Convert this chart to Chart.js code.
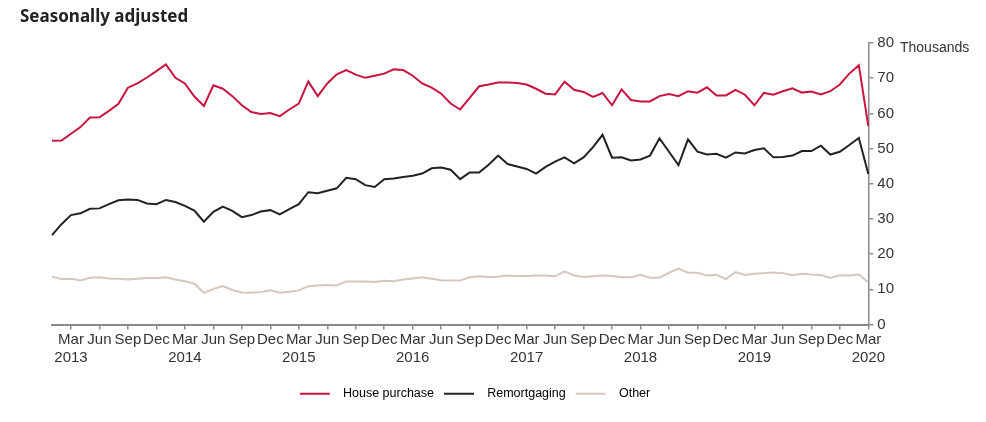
<!DOCTYPE html>
<html>
<head>
<meta charset="utf-8">
<script src="https://cdn.jsdelivr.net/npm/chart.js@4.4.1/dist/chart.umd.min.js"></script>
<style>
  body { margin: 0; background: #fff; }
  #wrap { position: relative; width: 986px; height: 422px; }
  #title { position: absolute; left: 20px; top: 4px; font: bold 17px "Noto Sans", sans-serif; color: #222; }
  #unit { position: absolute; left: 900px; top: 39px; font: 14px "Liberation Sans", Arial, sans-serif; color: #333; }
</style>
</head>
<body>
<div id="wrap">
  <div id="title">Seasonally adjusted</div>
  <div id="unit">Thousands</div>
  <canvas id="chartCanvas" width="986" height="422"></canvas>
</div>
<script>
// monthly, Jan 2013 - Mar 2020 (thousands)
const firstYear = 2013;
const monthNames = ["Jan","Feb","Mar","Apr","May","Jun","Jul","Aug","Sep","Oct","Nov","Dec"];
const months = [];
for (let y = firstYear; y <= 2020; y++) {
  for (let m = 0; m < 12; m++) {
    if (y === 2020 && m > 2) break;
    months.push(monthNames[m] + " " + y);
  }
}

const housePurchase = [
  52.2, 52.3, 54.2, 56.1, 58.8, 58.9, 60.7, 62.7, 67.3, 68.5,
  70.2, 72.0, 73.9, 70.1, 68.5, 64.8, 62.1, 68.0, 67.0, 64.9,
  62.3, 60.4, 59.8, 60.1, 59.2, 61.1, 62.8, 69.1, 64.9, 68.5,
  71.1, 72.3, 71.0, 70.1, 70.7, 71.3, 72.5, 72.3, 70.7, 68.5,
  67.3, 65.6, 62.8, 61.1, 64.4, 67.7, 68.2, 68.8, 68.8, 68.6,
  68.2, 67.0, 65.6, 65.4, 69.0, 66.7, 66.1, 64.7, 65.8, 62.3,
  66.8, 63.8, 63.4, 63.4, 64.9, 65.5, 64.9, 66.3, 65.9, 67.4,
  65.1, 65.1, 66.7, 65.3, 62.3, 65.8, 65.3, 66.3, 67.1, 65.9,
  66.2, 65.4, 66.3, 68.2, 71.3, 73.7, 56.4
];
const remortgaging = [
  25.4, 28.5, 31.1, 31.6, 32.9, 33.0, 34.2, 35.3, 35.5, 35.4,
  34.4, 34.2, 35.4, 34.8, 33.7, 32.4, 29.2, 32.0, 33.5, 32.3,
  30.5, 31.1, 32.1, 32.5, 31.3, 32.8, 34.2, 37.6, 37.3, 38.0,
  38.7, 41.7, 41.3, 39.6, 39.1, 41.3, 41.5, 41.9, 42.3, 42.9,
  44.4, 44.6, 44.0, 41.3, 43.2, 43.2, 45.4, 48.0, 45.6, 44.9,
  44.2, 42.9, 44.8, 46.3, 47.5, 45.8, 47.5, 50.4, 53.9, 47.4,
  47.5, 46.6, 46.9, 48.0, 52.9, 49.1, 45.3, 52.6, 49.1, 48.3,
  48.5, 47.4, 48.9, 48.6, 49.6, 50.1, 47.5, 47.6, 48.0, 49.3,
  49.3, 50.8, 48.3, 49.1, 51.0, 53.0, 42.8
];
const other = [
  13.6, 12.9, 13.0, 12.5, 13.3, 13.4, 13.1, 13.0, 12.8, 13.0,
  13.2, 13.2, 13.4, 12.8, 12.3, 11.6, 9.0, 10.1, 10.9, 9.8,
  9.1, 9.0, 9.2, 9.7, 9.0, 9.3, 9.7, 10.9, 11.1, 11.2,
  11.1, 12.2, 12.2, 12.2, 12.1, 12.4, 12.3, 12.8, 13.1, 13.4,
  13.0, 12.6, 12.5, 12.5, 13.4, 13.7, 13.5, 13.6, 13.9, 13.8,
  13.8, 13.9, 13.9, 13.7, 15.1, 13.9, 13.5, 13.7, 13.9, 13.8,
  13.4, 13.4, 14.1, 13.3, 13.3, 14.7, 15.9, 14.7, 14.7, 13.9,
  14.1, 12.9, 14.9, 14.1, 14.4, 14.6, 14.8, 14.6, 14.0, 14.4,
  14.2, 14.1, 13.2, 14.0, 13.9, 14.2, 12.0
];

const shownMonths = ["Mar", "Jun", "Sep", "Dec"];
const axisGrey = "#8a8a8a";
const tickFont = { family: "'Liberation Sans', Arial, sans-serif", size: 15 };

function isQuarter(i) {
  return shownMonths.includes(months[i].split(" ")[0]);
}

const series = [
  { label: "House purchase", data: housePurchase, color: "#c8143f" },
  { label: "Remortgaging", data: remortgaging, color: "#222222" },
  { label: "Other", data: other, color: "#d5c7c0" }
];

new Chart(document.getElementById("chartCanvas"), {
  type: "line",
  data: {
    labels: months,
    datasets: series.map(s => ({
      label: s.label,
      data: s.data,
      borderColor: s.color,
      backgroundColor: s.color,
      borderWidth: 2,
      pointRadius: 0,
      tension: 0
    }))
  },
  options: {
    responsive: false,
    animation: false,
    layout: { padding: { left: 52, right: 88, top: 43, bottom: 12 } },
    plugins: {
      tooltip: { enabled: false },
      legend: {
        position: "bottom",
        labels: {
          boxWidth: 30,
          boxHeight: 2,
          padding: 10,
          color: "#333",
          font: { family: "'Liberation Sans', Arial, sans-serif", size: 12.5 },
          // leading spaces give the wider gap between line sample and text
          generateLabels: chart => chart.data.datasets.map((d, i) => ({
            text: "  " + d.label,
            fillStyle: d.borderColor,
            strokeStyle: d.borderColor,
            lineWidth: 0,
            datasetIndex: i,
            hidden: false
          }))
        }
      }
    },
    scales: {
      x: {
        type: "category",
        offset: false,
        border: { color: axisGrey, width: 2 },
        grid: {
          drawOnChartArea: false,
          tickLength: 5,
          color: ctx => isQuarter(ctx.index) ? axisGrey : "transparent",
          lineWidth: 1.5
        },
        ticks: {
          autoSkip: false,
          maxRotation: 0,
          padding: 1,
          color: "#333",
          font: tickFont,
          callback: function (value, index) {
            const [m, y] = months[index].split(" ");
            if (m === "Mar") return [m, y];
            return isQuarter(index) ? m : "";
          }
        },
        afterFit: scale => { scale.height += 10; }
      },
      y: {
        position: "right",
        min: 0,
        max: 80,
        border: { color: axisGrey, width: 1.5 },
        grid: { drawOnChartArea: false, tickLength: 5, color: axisGrey, lineWidth: 1.5 },
        ticks: { stepSize: 10, padding: 4, color: "#333", font: tickFont }
      }
    }
  }
});
</script>
</body>
</html>
